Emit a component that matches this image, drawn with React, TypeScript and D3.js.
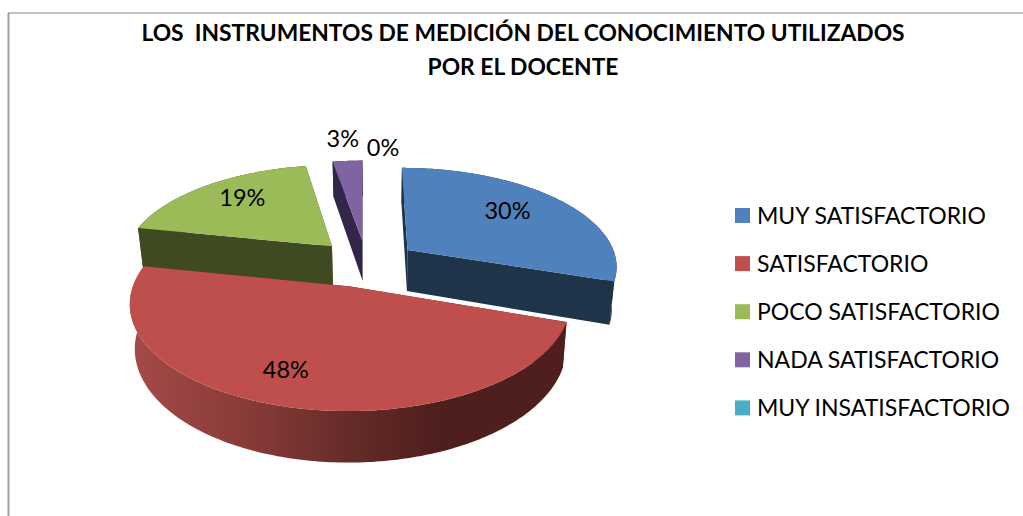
import React from "react";
import * as d3 from "d3";

const categories = ["MUY SATISFACTORIO", "SATISFACTORIO", "POCO SATISFACTORIO", "NADA SATISFACTORIO", "MUY INSATISFACTORIO"];
const values = [30.2, 48, 19.1, 2.7, 0];
const labels = ["30%", "48%", "19%", "3%", "0%"];
const topColors = ["#4f81bd", "#be4f4c", "#9bbb59", "#8064a2", "#4bacc6"];
const sideColors = ["#1f3349", "#4f1f1d", "#3f4a21", "#33264a", "#1e4a56"];
const titleLines = ["LOS  INSTRUMENTOS DE MEDICIÓN DEL CONOCIMIENTO UTILIZADOS", "POR EL DOCENTE"];

const W = 1023, H = 516;
const CX = 364, CY = 263, RX = 210, RY = 98, K = 0.15;
const DEPTH = 42, VX = 380, SHRINK = 0.98;
const explode = [0.26, 0.24, 0.225, 0.24, 0.24];
const shift = [[0, 0.015], [0, 0], [0, -0.015], [0.012, 0], [0, 0]];
const labelRadius = [0.7, 0.72, 0.7, 1.3, 1.3];
const labelNudge = [[-8, -3], [-17, 1], [1, -5], [-1, -2], [19, 7]];
const FONT = "Lato, 'Open Sans', sans-serif";

function project(X: number, Y: number, bottom: boolean): [number, number] {
  const s = 1 / (1 - K * Y);
  const x = CX + RX * X * s;
  const y = CY + RY * Y * s;
  if (!bottom) return [x, y];
  return [VX + (x - VX) * SHRINK, y + DEPTH * s];
}

const pieGen = d3.pie<number>().sort(null).value((d) => d);
const arcs = pieGen(values);
const line = d3.line();

export default function App() {
  const items = arcs.map((a, i) => {
    const mid = (a.startAngle + a.endAngle) / 2;
    const ox = explode[i] * Math.sin(mid) + shift[i][0];
    const oy = -explode[i] * Math.cos(mid) + shift[i][1];
    const pt = (ang: number, r: number, bottom: boolean) =>
      project(ox + r * Math.sin(ang), oy - r * Math.cos(ang), bottom);
    const n = Math.max(2, Math.ceil((a.endAngle - a.startAngle) * 60));
    const angs = d3.range(n + 1).map((j) => a.startAngle + ((a.endAngle - a.startAngle) * j) / n);
    const topRim = angs.map((t) => pt(t, 1, false));
    const botRim = angs.map((t) => pt(t, 1, true));
    const topD = line([pt(0, 0, false), ...topRim])! + "Z";
    const outerD = line([...topRim, ...botRim.slice().reverse()])! + "Z";
    const wall = (t: number) =>
      line([pt(0, 0, false), pt(t, 1, false), pt(t, 1, true), pt(0, 0, true)])! + "Z";
    const lp = pt(mid, labelRadius[i], false);
    return { i, topD, outerD, wallA: wall(a.startAngle), wallB: wall(a.endAngle), lp, empty: a.value === 0 };
  });
  const order = [3, 2, 0, 1, 4];
  return (
    <svg width={W} height={H} style={{ position: "absolute", left: 0, top: 0 }} fontFamily={FONT}>
      <defs>
        <linearGradient id="redSide" gradientUnits="userSpaceOnUse" x1={135} x2={565} y1={0} y2={0}>
          <stop offset="0" stopColor="#a34a47" />
          <stop offset="0.27" stopColor="#873a38" />
          <stop offset="0.5" stopColor="#652b29" />
          <stop offset="0.7" stopColor="#4f1f1d" />
          <stop offset="1" stopColor="#4f1f1e" />
        </linearGradient>
      </defs>
      <rect width={W} height={H} fill="#fff" />
      <line x1={8.5} x2={8.5} y1={13} y2={H} stroke="#a0a0a0" strokeWidth={2} />
      <line x1={8} x2={W} y1={13} y2={13} stroke="#8a8a8a" strokeWidth={1.2} />
      {titleLines.map((t, i) => (
        <text key={i} x={523} y={41 + i * 34} textAnchor="middle" fontSize={22.8} fontWeight={700} xmlSpace="preserve" fill="#000">
          {t}
        </text>
      ))}
      {order.map((i) => {
        const it = items[i];
        if (it.empty) return null;
        return (
          <g key={i}>
            <path d={it.wallA} fill={sideColors[i]} />
            <path d={it.wallB} fill={sideColors[i]} />
            <path d={it.outerD} fill={i === 1 ? "url(#redSide)" : sideColors[i]} />
            <path d={it.topD} fill={topColors[i]} />
          </g>
        );
      })}
      {items.map((it) => (
        <text key={it.i} x={it.lp[0] + labelNudge[it.i][0]} y={it.lp[1] + labelNudge[it.i][1]} dy="0.35em" textAnchor="middle" fontSize={23.5} fill="#000">
          {labels[it.i]}
        </text>
      ))}
      {categories.map((c, i) => {
        const y = 215.5 + i * 48.1;
        return (
          <g key={c}>
            <rect x={735} y={y - 7.5} width={15} height={15} fill={topColors[i]} />
            <text x={757} y={y} dy="0.36em" fontSize={23} fill="#000">{c}</text>
          </g>
        );
      })}
    </svg>
  );
}
